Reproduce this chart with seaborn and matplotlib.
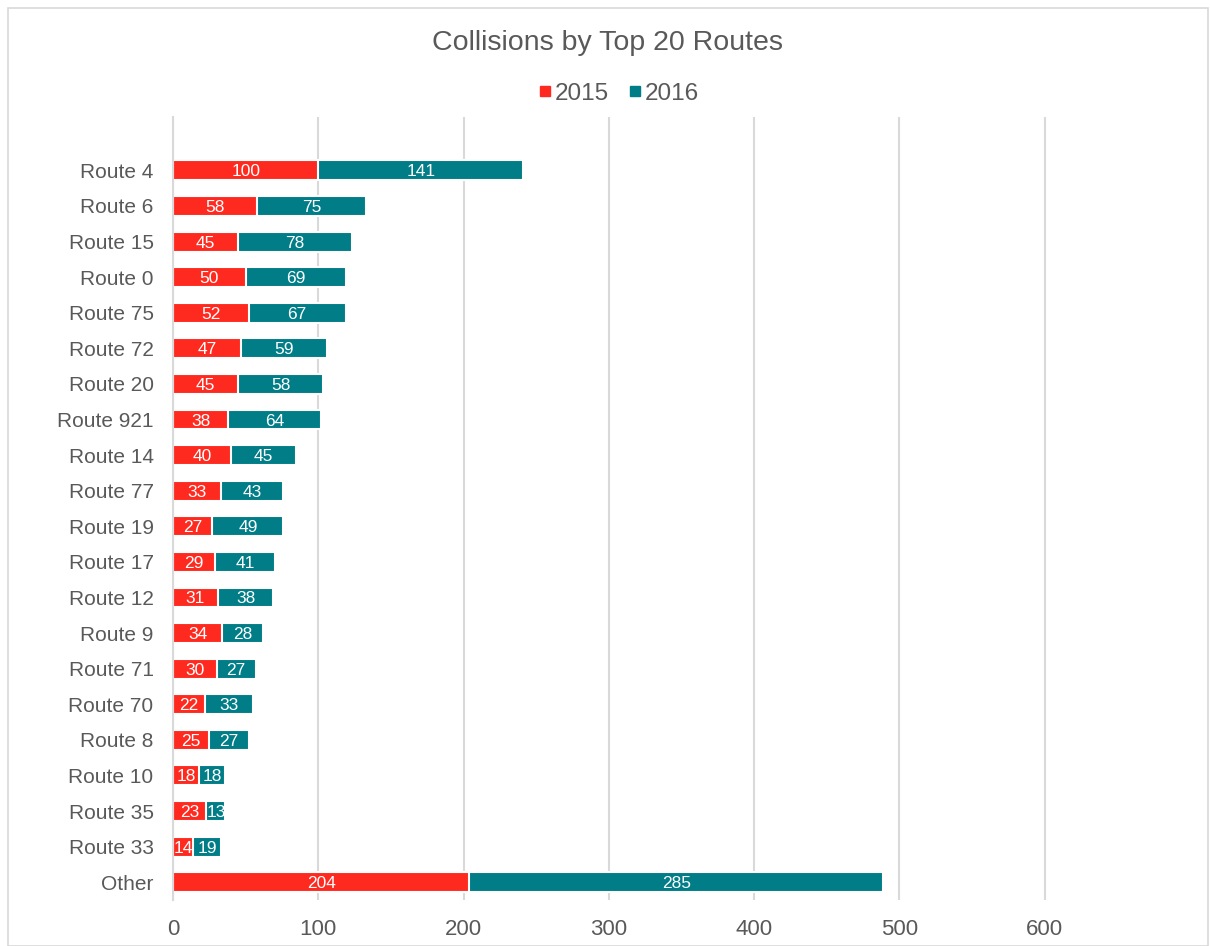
import matplotlib
matplotlib.use("Agg")
import matplotlib.pyplot as plt
from matplotlib.lines import Line2D
from matplotlib.patches import Rectangle
import numpy as np
import seaborn as sns

routes = ["Route 4", "Route 6", "Route 15", "Route 0", "Route 75", "Route 72",
          "Route 20", "Route 921", "Route 14", "Route 77", "Route 19", "Route 17",
          "Route 12", "Route 9", "Route 71", "Route 70", "Route 8", "Route 10",
          "Route 35", "Route 33", "Other"]
y2015 = [100, 58, 45, 50, 52, 47, 45, 38, 40, 33, 27, 29, 31, 34, 30, 22, 25, 18, 23, 14, 204]
y2016 = [141, 75, 78, 69, 67, 59, 58, 64, 45, 43, 49, 41, 38, 28, 27, 33, 27, 18, 13, 19, 285]
x_ticks = [0, 100, 200, 300, 400, 500, 600]

RED = "#FF2A1F"
TEAL = "#007D87"
GRID = "#D9D9D9"
TXT = "#595959"

sns.set_theme(style="white")
plt.rcParams["font.family"] = ["Liberation Sans", "DejaVu Sans"]

fig = plt.figure(figsize=(12.1, 9.46), dpi=100)
ax = fig.add_axes([173 / 1210, 1 - 900 / 946, (1190 - 173) / 1210, (900 - 117) / 946])

totals = np.array(y2015) + np.array(y2016)

# stacked bars: full total in teal, 2015 share drawn over it in red
sns.barplot(x=totals, y=routes, order=routes, orient="h", color=TEAL,
            saturation=1, width=0.56, edgecolor="white", linewidth=1.5, ax=ax)
sns.barplot(x=y2015, y=routes, order=routes, orient="h", color=RED,
            saturation=1, width=0.56, edgecolor="white", linewidth=1.5, ax=ax)

teal_bars = ax.patches[:len(routes)]
red_bars = ax.patches[len(routes):]

for i, (a, b) in enumerate(zip(y2015, y2016)):
    t1 = ax.text(a / 2, i, str(a), ha="center", va="center_baseline",
                 color="white", fontsize=12.5)
    t1.set_clip_path(red_bars[i])
    t2 = ax.text(a + b / 2, i, str(b), ha="center", va="center_baseline",
                 color="white", fontsize=12.5)
    t2.set_clip_path(teal_bars[i])

ax.set_xlim(0, 700)
ax.set_ylim(len(routes) - 0.5, -1.5)
ax.set_xticks(x_ticks)
ax.set_xticklabels([str(v) for v in x_ticks])
ax.set_xlabel("")
ax.set_ylabel("")

ax.grid(axis="x", color=GRID, linewidth=1.5)
ax.grid(axis="y", visible=False)
ax.set_axisbelow(True)
for side in ["top", "right", "bottom"]:
    ax.spines[side].set_visible(False)
ax.spines["left"].set_color(GRID)
ax.spines["left"].set_linewidth(1.5)

ax.tick_params(axis="x", length=0, pad=14, labelsize=16, labelcolor=TXT)
ax.tick_params(axis="y", which="major", length=0, pad=14, labelsize=15, labelcolor=TXT)
ax.set_yticks(np.arange(-1.5, len(routes), 1.0), minor=True)
ax.tick_params(axis="y", which="minor", length=6, width=1.5, color=GRID, direction="out")

fig.suptitle("Collisions by Top 20 Routes", x=0.502, y=1 - 43 / 946, va="center",
             fontsize=20.5, color=TXT)

handles = [Line2D([], [], marker="s", linestyle="none", markersize=7, color=RED),
           Line2D([], [], marker="s", linestyle="none", markersize=7, color=TEAL)]
fig.legend(handles, ["2015", "2016"], loc="center", bbox_to_anchor=(0.509, 1 - 94 / 946),
           ncol=2, frameon=False, fontsize=17.5, labelcolor=TXT,
           handletextpad=-0.1, columnspacing=0.6, handlelength=1.0)

fig.patches.append(Rectangle((8 / 1210, 0), 1200 / 1210, 1 - 8 / 946,
                             transform=fig.transFigure, fill=False,
                             edgecolor=GRID, linewidth=1.2))

fig.savefig("out.png", dpi=100)
